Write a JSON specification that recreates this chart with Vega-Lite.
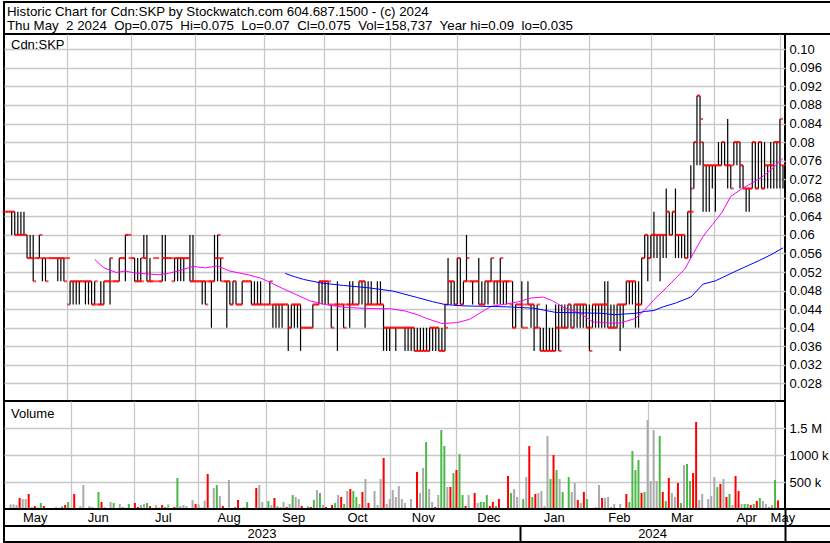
{
"$schema": "https://vega.github.io/schema/vega-lite/v6.json",
"padding": 1,
"spacing": 0,
"bounds": "flush",
"background": "white",
"config": {"view": {"stroke": "black", "strokeWidth": 2, "fill": "white"}, "axis": {"labelFont": "Liberation Sans", "labelFontSize": 13, "labelColor": "black", "title": null}, "text": {"font": "Liberation Sans"}, "concat": {"spacing": 0}},
"datasets": {
"bars": [
{"i":0,"o":0.065,"h":0.065,"l":0.065,"c":0.065,"v":86000,"d":"n"},
{"i":1,"o":0.065,"h":0.065,"l":0.065,"c":0.065,"v":86000,"d":"n"},
{"i":2,"o":0.065,"h":0.065,"l":0.06,"c":0.065,"v":74000,"d":"n"},
{"i":3,"o":0.065,"h":0.065,"l":0.06,"c":0.06,"v":204000,"d":"d"},
{"i":4,"o":0.06,"h":0.065,"l":0.06,"c":0.06,"v":185000,"d":"n"},
{"i":5,"o":0.06,"h":0.065,"l":0.06,"c":0.06,"v":185000,"d":"n"},
{"i":6,"o":0.06,"h":0.065,"l":0.06,"c":0.06,"v":278000,"d":"d"},
{"i":7,"o":0.06,"h":0.06,"l":0.055,"c":0.055,"v":37000,"d":"n"},
{"i":8,"o":0.055,"h":0.06,"l":0.055,"c":0.055,"v":56000,"d":"d"},
{"i":9,"o":0.055,"h":0.06,"l":0.05,"c":0.05,"v":25000,"d":"u"},
{"i":10,"o":0.055,"h":0.055,"l":0.055,"c":0.055,"v":111000,"d":"u"},
{"i":11,"o":0.055,"h":0.06,"l":0.055,"c":0.06,"v":56000,"d":"d"},
{"i":12,"o":0.055,"h":0.055,"l":0.05,"c":0.055,"v":6000,"d":"n"},
{"i":13,"o":0.055,"h":0.055,"l":0.05,"c":0.05,"v":19000,"d":"d"},
{"i":14,"o":0.055,"h":0.055,"l":0.055,"c":0.055,"v":6000,"d":"d"},
{"i":15,"o":0.055,"h":0.055,"l":0.055,"c":0.055,"v":37000,"d":"n"},
{"i":16,"o":0.055,"h":0.055,"l":0.055,"c":0.055,"v":25000,"d":"n"},
{"i":17,"o":0.055,"h":0.055,"l":0.05,"c":0.055,"v":49000,"d":"u"},
{"i":18,"o":0.055,"h":0.055,"l":0.05,"c":0.055,"v":74000,"d":"d"},
{"i":19,"o":0.055,"h":0.055,"l":0.05,"c":0.05,"v":130000,"d":"u"},
{"i":20,"o":0.055,"h":0.055,"l":0.055,"c":0.055,"v":19000,"d":"n"},
{"i":21,"o":0.045,"h":0.05,"l":0.045,"c":0.05,"v":278000,"d":"d"},
{"i":22,"o":0.05,"h":0.05,"l":0.045,"c":0.05,"v":6000,"d":"u"},
{"i":23,"o":0.05,"h":0.05,"l":0.045,"c":0.05,"v":56000,"d":"n"},
{"i":24,"o":0.05,"h":0.05,"l":0.045,"c":0.05,"v":444000,"d":"n"},
{"i":25,"o":0.05,"h":0.05,"l":0.05,"c":0.05,"v":6000,"d":"n"},
{"i":26,"o":0.05,"h":0.05,"l":0.045,"c":0.05,"v":56000,"d":"n"},
{"i":27,"o":0.05,"h":0.05,"l":0.045,"c":0.05,"v":37000,"d":"n"},
{"i":28,"o":0.05,"h":0.05,"l":0.045,"c":0.045,"v":19000,"d":"d"},
{"i":29,"o":0.045,"h":0.05,"l":0.045,"c":0.05,"v":315000,"d":"u"},
{"i":30,"o":0.045,"h":0.045,"l":0.045,"c":0.045,"v":130000,"d":"d"},
{"i":31,"o":0.045,"h":0.05,"l":0.045,"c":0.045,"v":37000,"d":"n"},
{"i":32,"o":0.045,"h":0.05,"l":0.045,"c":0.05,"v":6000,"d":"n"},
{"i":33,"o":0.05,"h":0.05,"l":0.05,"c":0.05,"v":130000,"d":"n"},
{"i":34,"o":0.05,"h":0.055,"l":0.045,"c":0.055,"v":111000,"d":"u"},
{"i":35,"o":0.05,"h":0.05,"l":0.05,"c":0.05,"v":6000,"d":"d"},
{"i":36,"o":0.05,"h":0.05,"l":0.05,"c":0.05,"v":93000,"d":"n"},
{"i":37,"o":0.05,"h":0.055,"l":0.05,"c":0.055,"v":37000,"d":"u"},
{"i":38,"o":0.055,"h":0.055,"l":0.055,"c":0.055,"v":25000,"d":"n"},
{"i":39,"o":0.055,"h":0.06,"l":0.05,"c":0.06,"v":93000,"d":"u"},
{"i":40,"o":0.06,"h":0.06,"l":0.06,"c":0.06,"v":6000,"d":"n"},
{"i":41,"o":0.055,"h":0.055,"l":0.055,"c":0.055,"v":111000,"d":"d"},
{"i":42,"o":0.055,"h":0.055,"l":0.05,"c":0.05,"v":37000,"d":"d"},
{"i":43,"o":0.05,"h":0.055,"l":0.05,"c":0.05,"v":74000,"d":"n"},
{"i":44,"o":0.05,"h":0.055,"l":0.05,"c":0.05,"v":93000,"d":"n"},
{"i":45,"o":0.055,"h":0.06,"l":0.055,"c":0.055,"v":111000,"d":"u"},
{"i":46,"o":0.055,"h":0.06,"l":0.05,"c":0.05,"v":56000,"d":"d"},
{"i":47,"o":0.05,"h":0.055,"l":0.05,"c":0.05,"v":6000,"d":"n"},
{"i":48,"o":0.05,"h":0.05,"l":0.05,"c":0.05,"v":74000,"d":"n"},
{"i":49,"o":0.055,"h":0.055,"l":0.055,"c":0.055,"v":25000,"d":"u"},
{"i":50,"o":0.05,"h":0.05,"l":0.05,"c":0.05,"v":74000,"d":"d"},
{"i":51,"o":0.05,"h":0.06,"l":0.05,"c":0.055,"v":37000,"d":"u"},
{"i":52,"o":0.055,"h":0.06,"l":0.05,"c":0.055,"v":86000,"d":"n"},
{"i":53,"o":0.055,"h":0.055,"l":0.055,"c":0.055,"v":19000,"d":"n"},
{"i":54,"o":0.055,"h":0.055,"l":0.055,"c":0.055,"v":37000,"d":"d"},
{"i":55,"o":0.05,"h":0.055,"l":0.05,"c":0.055,"v":574000,"d":"u"},
{"i":56,"o":0.055,"h":0.055,"l":0.05,"c":0.055,"v":56000,"d":"n"},
{"i":57,"o":0.055,"h":0.055,"l":0.05,"c":0.055,"v":74000,"d":"n"},
{"i":58,"o":0.055,"h":0.055,"l":0.05,"c":0.055,"v":56000,"d":"n"},
{"i":59,"o":0.055,"h":0.055,"l":0.055,"c":0.055,"v":19000,"d":"n"},
{"i":60,"o":0.055,"h":0.06,"l":0.05,"c":0.05,"v":167000,"d":"n"},
{"i":61,"o":0.05,"h":0.06,"l":0.05,"c":0.05,"v":93000,"d":"d"},
{"i":62,"o":0.05,"h":0.05,"l":0.05,"c":0.05,"v":86000,"d":"n"},
{"i":63,"o":0.05,"h":0.05,"l":0.05,"c":0.05,"v":25000,"d":"n"},
{"i":64,"o":0.05,"h":0.05,"l":0.045,"c":0.05,"v":154000,"d":"n"},
{"i":65,"o":0.05,"h":0.05,"l":0.045,"c":0.045,"v":648000,"d":"d"},
{"i":66,"o":0.05,"h":0.05,"l":0.05,"c":0.05,"v":6000,"d":"n"},
{"i":67,"o":0.05,"h":0.05,"l":0.04,"c":0.05,"v":389000,"d":"n"},
{"i":68,"o":0.05,"h":0.06,"l":0.05,"c":0.055,"v":444000,"d":"u"},
{"i":69,"o":0.055,"h":0.06,"l":0.05,"c":0.06,"v":241000,"d":"n"},
{"i":70,"o":0.055,"h":0.055,"l":0.05,"c":0.055,"v":56000,"d":"d"},
{"i":71,"o":0.05,"h":0.05,"l":0.05,"c":0.05,"v":19000,"d":"d"},
{"i":72,"o":0.05,"h":0.05,"l":0.04,"c":0.05,"v":537000,"d":"n"},
{"i":73,"o":0.05,"h":0.05,"l":0.045,"c":0.045,"v":19000,"d":"d"},
{"i":74,"o":0.045,"h":0.05,"l":0.045,"c":0.05,"v":37000,"d":"u"},
{"i":75,"o":0.05,"h":0.05,"l":0.045,"c":0.045,"v":167000,"d":"d"},
{"i":76,"o":0.045,"h":0.045,"l":0.045,"c":0.045,"v":6000,"d":"n"},
{"i":77,"o":0.045,"h":0.05,"l":0.045,"c":0.05,"v":37000,"d":"n"},
{"i":78,"o":0.05,"h":0.05,"l":0.05,"c":0.05,"v":130000,"d":"u"},
{"i":79,"o":0.05,"h":0.05,"l":0.05,"c":0.05,"v":6000,"d":"n"},
{"i":80,"o":0.05,"h":0.05,"l":0.045,"c":0.045,"v":19000,"d":"n"},
{"i":81,"o":0.045,"h":0.05,"l":0.045,"c":0.045,"v":389000,"d":"d"},
{"i":82,"o":0.045,"h":0.05,"l":0.045,"c":0.045,"v":444000,"d":"n"},
{"i":83,"o":0.045,"h":0.05,"l":0.045,"c":0.045,"v":130000,"d":"n"},
{"i":84,"o":0.045,"h":0.045,"l":0.045,"c":0.045,"v":25000,"d":"n"},
{"i":85,"o":0.045,"h":0.045,"l":0.045,"c":0.045,"v":148000,"d":"u"},
{"i":86,"o":0.045,"h":0.05,"l":0.045,"c":0.05,"v":74000,"d":"n"},
{"i":87,"o":0.045,"h":0.045,"l":0.04,"c":0.045,"v":204000,"d":"d"},
{"i":88,"o":0.045,"h":0.045,"l":0.04,"c":0.045,"v":49000,"d":"u"},
{"i":89,"o":0.045,"h":0.045,"l":0.04,"c":0.045,"v":37000,"d":"n"},
{"i":90,"o":0.045,"h":0.045,"l":0.04,"c":0.045,"v":130000,"d":"n"},
{"i":91,"o":0.045,"h":0.045,"l":0.045,"c":0.045,"v":37000,"d":"d"},
{"i":92,"o":0.045,"h":0.045,"l":0.035,"c":0.04,"v":93000,"d":"n"},
{"i":93,"o":0.04,"h":0.045,"l":0.04,"c":0.045,"v":259000,"d":"u"},
{"i":94,"o":0.045,"h":0.045,"l":0.04,"c":0.045,"v":222000,"d":"n"},
{"i":95,"o":0.045,"h":0.045,"l":0.04,"c":0.045,"v":185000,"d":"n"},
{"i":96,"o":0.045,"h":0.045,"l":0.035,"c":0.04,"v":56000,"d":"d"},
{"i":97,"o":0.04,"h":0.04,"l":0.04,"c":0.04,"v":19000,"d":"u"},
{"i":98,"o":0.04,"h":0.04,"l":0.04,"c":0.04,"v":49000,"d":"u"},
{"i":99,"o":0.04,"h":0.04,"l":0.04,"c":0.04,"v":37000,"d":"d"},
{"i":100,"o":0.04,"h":0.045,"l":0.04,"c":0.045,"v":167000,"d":"u"},
{"i":101,"o":0.045,"h":0.045,"l":0.045,"c":0.045,"v":352000,"d":"n"},
{"i":102,"o":0.045,"h":0.05,"l":0.045,"c":0.05,"v":296000,"d":"u"},
{"i":103,"o":0.05,"h":0.05,"l":0.045,"c":0.05,"v":74000,"d":"n"},
{"i":104,"o":0.05,"h":0.05,"l":0.045,"c":0.05,"v":37000,"d":"d"},
{"i":105,"o":0.05,"h":0.05,"l":0.045,"c":0.05,"v":19000,"d":"u"},
{"i":106,"o":0.045,"h":0.045,"l":0.04,"c":0.04,"v":74000,"d":"d"},
{"i":107,"o":0.045,"h":0.045,"l":0.045,"c":0.045,"v":111000,"d":"u"},
{"i":108,"o":0.045,"h":0.05,"l":0.035,"c":0.045,"v":259000,"d":"n"},
{"i":109,"o":0.045,"h":0.045,"l":0.045,"c":0.045,"v":222000,"d":"d"},
{"i":110,"o":0.045,"h":0.045,"l":0.04,"c":0.04,"v":93000,"d":"u"},
{"i":111,"o":0.045,"h":0.045,"l":0.045,"c":0.045,"v":333000,"d":"n"},
{"i":112,"o":0.045,"h":0.05,"l":0.04,"c":0.045,"v":370000,"d":"d"},
{"i":113,"o":0.045,"h":0.05,"l":0.045,"c":0.045,"v":333000,"d":"u"},
{"i":114,"o":0.045,"h":0.045,"l":0.045,"c":0.045,"v":222000,"d":"u"},
{"i":115,"o":0.045,"h":0.05,"l":0.045,"c":0.05,"v":93000,"d":"n"},
{"i":116,"o":0.05,"h":0.05,"l":0.045,"c":0.05,"v":315000,"d":"d"},
{"i":117,"o":0.05,"h":0.05,"l":0.04,"c":0.045,"v":555000,"d":"n"},
{"i":118,"o":0.045,"h":0.05,"l":0.045,"c":0.045,"v":111000,"d":"d"},
{"i":119,"o":0.045,"h":0.05,"l":0.045,"c":0.045,"v":19000,"d":"n"},
{"i":120,"o":0.045,"h":0.045,"l":0.045,"c":0.045,"v":333000,"d":"n"},
{"i":121,"o":0.045,"h":0.05,"l":0.045,"c":0.045,"v":74000,"d":"n"},
{"i":122,"o":0.045,"h":0.05,"l":0.045,"c":0.045,"v":555000,"d":"n"},
{"i":123,"o":0.045,"h":0.045,"l":0.035,"c":0.04,"v":944000,"d":"d"},
{"i":124,"o":0.04,"h":0.04,"l":0.035,"c":0.04,"v":93000,"d":"n"},
{"i":125,"o":0.04,"h":0.04,"l":0.035,"c":0.04,"v":185000,"d":"n"},
{"i":126,"o":0.04,"h":0.04,"l":0.04,"c":0.04,"v":352000,"d":"n"},
{"i":127,"o":0.04,"h":0.04,"l":0.035,"c":0.04,"v":222000,"d":"n"},
{"i":128,"o":0.04,"h":0.04,"l":0.04,"c":0.04,"v":426000,"d":"n"},
{"i":129,"o":0.04,"h":0.04,"l":0.04,"c":0.04,"v":185000,"d":"n"},
{"i":130,"o":0.04,"h":0.04,"l":0.035,"c":0.04,"v":111000,"d":"n"},
{"i":131,"o":0.04,"h":0.04,"l":0.035,"c":0.04,"v":19000,"d":"n"},
{"i":132,"o":0.04,"h":0.04,"l":0.035,"c":0.04,"v":185000,"d":"n"},
{"i":133,"o":0.04,"h":0.04,"l":0.035,"c":0.035,"v":19000,"d":"n"},
{"i":134,"o":0.035,"h":0.04,"l":0.035,"c":0.035,"v":685000,"d":"d"},
{"i":135,"o":0.035,"h":0.04,"l":0.035,"c":0.035,"v":300000,"d":"n"},
{"i":136,"o":0.035,"h":0.04,"l":0.035,"c":0.035,"v":759000,"d":"n"},
{"i":137,"o":0.035,"h":0.04,"l":0.035,"c":0.035,"v":1240000,"d":"u"},
{"i":138,"o":0.035,"h":0.04,"l":0.035,"c":0.04,"v":370000,"d":"n"},
{"i":139,"o":0.04,"h":0.04,"l":0.035,"c":0.04,"v":130000,"d":"n"},
{"i":140,"o":0.04,"h":0.04,"l":0.035,"c":0.04,"v":37000,"d":"d"},
{"i":141,"o":0.04,"h":0.04,"l":0.035,"c":0.035,"v":259000,"d":"n"},
{"i":142,"o":0.035,"h":0.04,"l":0.035,"c":0.035,"v":1462000,"d":"u"},
{"i":143,"o":0.035,"h":0.045,"l":0.035,"c":0.04,"v":1166000,"d":"u"},
{"i":144,"o":0.045,"h":0.055,"l":0.045,"c":0.05,"v":407000,"d":"n"},
{"i":145,"o":0.05,"h":0.05,"l":0.045,"c":0.05,"v":407000,"d":"d"},
{"i":146,"o":0.05,"h":0.05,"l":0.045,"c":0.045,"v":666000,"d":"u"},
{"i":147,"o":0.045,"h":0.055,"l":0.045,"c":0.055,"v":722000,"d":"d"},
{"i":148,"o":0.055,"h":0.055,"l":0.045,"c":0.045,"v":1018000,"d":"u"},
{"i":149,"o":0.045,"h":0.05,"l":0.045,"c":0.05,"v":259000,"d":"u"},
{"i":150,"o":0.05,"h":0.06,"l":0.05,"c":0.055,"v":56000,"d":"d"},
{"i":151,"o":0.05,"h":0.05,"l":0.05,"c":0.05,"v":259000,"d":"n"},
{"i":152,"o":0.05,"h":0.05,"l":0.045,"c":0.05,"v":19000,"d":"n"},
{"i":153,"o":0.05,"h":0.05,"l":0.05,"c":0.05,"v":296000,"d":"d"},
{"i":154,"o":0.05,"h":0.055,"l":0.045,"c":0.045,"v":111000,"d":"n"},
{"i":155,"o":0.045,"h":0.05,"l":0.045,"c":0.045,"v":130000,"d":"u"},
{"i":156,"o":0.045,"h":0.05,"l":0.045,"c":0.05,"v":130000,"d":"u"},
{"i":157,"o":0.05,"h":0.05,"l":0.045,"c":0.05,"v":259000,"d":"u"},
{"i":158,"o":0.05,"h":0.055,"l":0.05,"c":0.055,"v":56000,"d":"d"},
{"i":159,"o":0.05,"h":0.05,"l":0.045,"c":0.05,"v":130000,"d":"d"},
{"i":160,"o":0.05,"h":0.05,"l":0.045,"c":0.05,"v":56000,"d":"u"},
{"i":161,"o":0.05,"h":0.055,"l":0.045,"c":0.055,"v":185000,"d":"d"},
{"i":162,"o":0.05,"h":0.05,"l":0.045,"c":0.05,"v":6000,"d":"n"},
{"i":163,"o":0.05,"h":0.05,"l":0.045,"c":0.05,"v":6000,"d":"n"},
{"i":164,"o":0.05,"h":0.05,"l":0.05,"c":0.05,"v":611000,"d":"d"},
{"i":165,"o":0.045,"h":0.05,"l":0.04,"c":0.04,"v":296000,"d":"u"},
{"i":166,"o":0.04,"h":0.045,"l":0.04,"c":0.045,"v":370000,"d":"n"},
{"i":167,"o":0.045,"h":0.045,"l":0.045,"c":0.045,"v":222000,"d":"n"},
{"i":168,"o":0.045,"h":0.05,"l":0.04,"c":0.045,"v":6000,"d":"d"},
{"i":169,"o":0.04,"h":0.04,"l":0.04,"c":0.04,"v":185000,"d":"u"},
{"i":170,"o":0.045,"h":0.05,"l":0.045,"c":0.045,"v":592000,"d":"n"},
{"i":171,"o":0.045,"h":0.045,"l":0.04,"c":0.045,"v":1166000,"d":"d"},
{"i":172,"o":0.045,"h":0.045,"l":0.035,"c":0.04,"v":222000,"d":"u"},
{"i":173,"o":0.04,"h":0.045,"l":0.04,"c":0.045,"v":278000,"d":"d"},
{"i":174,"o":0.04,"h":0.04,"l":0.035,"c":0.035,"v":296000,"d":"n"},
{"i":175,"o":0.035,"h":0.04,"l":0.035,"c":0.035,"v":333000,"d":"n"},
{"i":176,"o":0.035,"h":0.045,"l":0.035,"c":0.035,"v":56000,"d":"n"},
{"i":177,"o":0.035,"h":0.04,"l":0.035,"c":0.035,"v":1351000,"d":"n"},
{"i":178,"o":0.035,"h":0.04,"l":0.035,"c":0.035,"v":555000,"d":"u"},
{"i":179,"o":0.035,"h":0.045,"l":0.035,"c":0.04,"v":1000000,"d":"d"},
{"i":180,"o":0.04,"h":0.045,"l":0.035,"c":0.035,"v":722000,"d":"u"},
{"i":181,"o":0.04,"h":0.045,"l":0.04,"c":0.04,"v":555000,"d":"n"},
{"i":182,"o":0.04,"h":0.045,"l":0.04,"c":0.04,"v":315000,"d":"u"},
{"i":183,"o":0.04,"h":0.045,"l":0.04,"c":0.045,"v":19000,"d":"d"},
{"i":184,"o":0.045,"h":0.045,"l":0.04,"c":0.04,"v":592000,"d":"u"},
{"i":185,"o":0.04,"h":0.045,"l":0.04,"c":0.045,"v":315000,"d":"n"},
{"i":186,"o":0.045,"h":0.045,"l":0.04,"c":0.045,"v":481000,"d":"n"},
{"i":187,"o":0.045,"h":0.045,"l":0.04,"c":0.045,"v":167000,"d":"d"},
{"i":188,"o":0.045,"h":0.045,"l":0.04,"c":0.045,"v":111000,"d":"n"},
{"i":189,"o":0.045,"h":0.045,"l":0.04,"c":0.04,"v":315000,"d":"d"},
{"i":190,"o":0.04,"h":0.045,"l":0.035,"c":0.035,"v":185000,"d":"u"},
{"i":191,"o":0.04,"h":0.045,"l":0.04,"c":0.045,"v":19000,"d":"u"},
{"i":192,"o":0.045,"h":0.045,"l":0.04,"c":0.045,"v":6000,"d":"n"},
{"i":193,"o":0.045,"h":0.045,"l":0.04,"c":0.045,"v":37000,"d":"n"},
{"i":194,"o":0.045,"h":0.045,"l":0.04,"c":0.045,"v":444000,"d":"n"},
{"i":195,"o":0.045,"h":0.05,"l":0.04,"c":0.045,"v":204000,"d":"d"},
{"i":196,"o":0.045,"h":0.05,"l":0.04,"c":0.04,"v":204000,"d":"n"},
{"i":197,"o":0.04,"h":0.045,"l":0.04,"c":0.04,"v":222000,"d":"n"},
{"i":198,"o":0.04,"h":0.045,"l":0.04,"c":0.04,"v":37000,"d":"u"},
{"i":199,"o":0.04,"h":0.045,"l":0.04,"c":0.045,"v":93000,"d":"n"},
{"i":200,"o":0.045,"h":0.045,"l":0.035,"c":0.045,"v":12000,"d":"n"},
{"i":201,"o":0.045,"h":0.045,"l":0.04,"c":0.045,"v":93000,"d":"n"},
{"i":202,"o":0.045,"h":0.05,"l":0.045,"c":0.05,"v":6000,"d":"n"},
{"i":203,"o":0.05,"h":0.05,"l":0.045,"c":0.05,"v":278000,"d":"d"},
{"i":204,"o":0.05,"h":0.05,"l":0.045,"c":0.05,"v":130000,"d":"u"},
{"i":205,"o":0.05,"h":0.05,"l":0.04,"c":0.045,"v":1074000,"d":"u"},
{"i":206,"o":0.045,"h":0.05,"l":0.04,"c":0.045,"v":722000,"d":"u"},
{"i":207,"o":0.045,"h":0.055,"l":0.045,"c":0.055,"v":907000,"d":"u"},
{"i":208,"o":0.055,"h":0.06,"l":0.055,"c":0.06,"v":296000,"d":"d"},
{"i":209,"o":0.06,"h":0.06,"l":0.05,"c":0.055,"v":315000,"d":"u"},
{"i":210,"o":0.055,"h":0.06,"l":0.055,"c":0.06,"v":1647000,"d":"n"},
{"i":211,"o":0.06,"h":0.065,"l":0.055,"c":0.06,"v":518000,"d":"n"},
{"i":212,"o":0.06,"h":0.06,"l":0.055,"c":0.06,"v":1462000,"d":"n"},
{"i":213,"o":0.06,"h":0.06,"l":0.05,"c":0.06,"v":518000,"d":"n"},
{"i":214,"o":0.06,"h":0.06,"l":0.055,"c":0.06,"v":1351000,"d":"u"},
{"i":215,"o":0.06,"h":0.07,"l":0.055,"c":0.065,"v":315000,"d":"d"},
{"i":216,"o":0.065,"h":0.065,"l":0.06,"c":0.06,"v":148000,"d":"u"},
{"i":217,"o":0.06,"h":0.065,"l":0.06,"c":0.065,"v":574000,"d":"d"},
{"i":218,"o":0.065,"h":0.07,"l":0.055,"c":0.06,"v":296000,"d":"n"},
{"i":219,"o":0.06,"h":0.06,"l":0.055,"c":0.06,"v":222000,"d":"n"},
{"i":220,"o":0.06,"h":0.06,"l":0.055,"c":0.06,"v":481000,"d":"d"},
{"i":221,"o":0.06,"h":0.06,"l":0.055,"c":0.055,"v":111000,"d":"u"},
{"i":222,"o":0.055,"h":0.065,"l":0.055,"c":0.065,"v":814000,"d":"n"},
{"i":223,"o":0.065,"h":0.075,"l":0.055,"c":0.065,"v":833000,"d":"u"},
{"i":224,"o":0.07,"h":0.08,"l":0.07,"c":0.08,"v":518000,"d":"u"},
{"i":225,"o":0.08,"h":0.09,"l":0.075,"c":0.09,"v":666000,"d":"d"},
{"i":226,"o":0.09,"h":0.09,"l":0.075,"c":0.085,"v":1610000,"d":"d"},
{"i":227,"o":0.08,"h":0.08,"l":0.065,"c":0.075,"v":167000,"d":"n"},
{"i":228,"o":0.075,"h":0.075,"l":0.065,"c":0.075,"v":278000,"d":"n"},
{"i":229,"o":0.075,"h":0.075,"l":0.065,"c":0.075,"v":12000,"d":"n"},
{"i":230,"o":0.075,"h":0.075,"l":0.07,"c":0.075,"v":185000,"d":"n"},
{"i":231,"o":0.075,"h":0.075,"l":0.065,"c":0.075,"v":241000,"d":"n"},
{"i":232,"o":0.075,"h":0.08,"l":0.075,"c":0.075,"v":592000,"d":"n"},
{"i":233,"o":0.075,"h":0.08,"l":0.075,"c":0.08,"v":407000,"d":"u"},
{"i":234,"o":0.08,"h":0.08,"l":0.075,"c":0.075,"v":463000,"d":"d"},
{"i":235,"o":0.075,"h":0.085,"l":0.07,"c":0.075,"v":555000,"d":"n"},
{"i":236,"o":0.075,"h":0.075,"l":0.07,"c":0.07,"v":222000,"d":"d"},
{"i":237,"o":0.075,"h":0.08,"l":0.075,"c":0.08,"v":278000,"d":"u"},
{"i":238,"o":0.08,"h":0.08,"l":0.075,"c":0.08,"v":74000,"d":"n"},
{"i":239,"o":0.08,"h":0.08,"l":0.07,"c":0.075,"v":611000,"d":"d"},
{"i":240,"o":0.075,"h":0.075,"l":0.07,"c":0.07,"v":333000,"d":"d"},
{"i":241,"o":0.07,"h":0.07,"l":0.065,"c":0.07,"v":93000,"d":"n"},
{"i":242,"o":0.07,"h":0.07,"l":0.065,"c":0.07,"v":93000,"d":"u"},
{"i":243,"o":0.07,"h":0.08,"l":0.07,"c":0.08,"v":93000,"d":"u"},
{"i":244,"o":0.08,"h":0.08,"l":0.07,"c":0.07,"v":74000,"d":"d"},
{"i":245,"o":0.07,"h":0.08,"l":0.07,"c":0.08,"v":93000,"d":"u"},
{"i":246,"o":0.08,"h":0.08,"l":0.07,"c":0.07,"v":148000,"d":"d"},
{"i":247,"o":0.07,"h":0.08,"l":0.07,"c":0.075,"v":204000,"d":"u"},
{"i":248,"o":0.075,"h":0.075,"l":0.07,"c":0.075,"v":148000,"d":"n"},
{"i":249,"o":0.075,"h":0.08,"l":0.07,"c":0.075,"v":93000,"d":"n"},
{"i":250,"o":0.075,"h":0.08,"l":0.07,"c":0.08,"v":37000,"d":"u"},
{"i":251,"o":0.08,"h":0.08,"l":0.07,"c":0.08,"v":74000,"d":"n"},
{"i":252,"o":0.08,"h":0.085,"l":0.07,"c":0.085,"v":537000,"d":"u"},
{"i":253,"o":0.075,"h":0.075,"l":0.07,"c":0.075,"v":158737,"d":"d"}
],
"ma1": [
{"i":29,"v":0.0547},{"i":32,"v":0.0529},{"i":36,"v":0.0519},{"i":39,"v":0.0522},{"i":42,"v":0.0518},{"i":46,"v":0.0516},{"i":50,"v":0.0514},{"i":53,"v":0.0517},{"i":56,"v":0.0522},{"i":61,"v":0.0532},{"i":65,"v":0.0529},{"i":69,"v":0.0533},{"i":73,"v":0.0522},{"i":79,"v":0.0514},{"i":83,"v":0.0507},{"i":86,"v":0.0498},{"i":90,"v":0.0485},{"i":94,"v":0.0473},{"i":99,"v":0.0458},{"i":104,"v":0.045},{"i":110,"v":0.0444},{"i":116,"v":0.0442},{"i":121,"v":0.0441},{"i":125,"v":0.0441},{"i":130,"v":0.0436},{"i":134,"v":0.0428},{"i":137,"v":0.042},{"i":142,"v":0.0409},{"i":147,"v":0.0411},{"i":151,"v":0.0418},{"i":154,"v":0.043},{"i":158,"v":0.0446},{"i":162,"v":0.045},{"i":167,"v":0.0456},{"i":171,"v":0.0464},{"i":175,"v":0.0466},{"i":178,"v":0.0458},{"i":182,"v":0.0442},{"i":187,"v":0.0431},{"i":191,"v":0.0413},{"i":196,"v":0.041},{"i":200,"v":0.041},{"i":205,"v":0.042},{"i":208,"v":0.0438},{"i":211,"v":0.046},{"i":215,"v":0.0486},{"i":221,"v":0.0526},{"i":224,"v":0.0562},{"i":227,"v":0.0597},{"i":230,"v":0.0622},{"i":233,"v":0.0647},{"i":236,"v":0.0683},{"i":240,"v":0.0701},{"i":243,"v":0.0712},{"i":246,"v":0.0724},{"i":249,"v":0.074},{"i":253,"v":0.0765}
],
"ma2": [
{"i":91,"v":0.0517},{"i":94,"v":0.051},{"i":97,"v":0.0504},{"i":103,"v":0.0496},{"i":110,"v":0.0491},{"i":118,"v":0.0486},{"i":126,"v":0.0479},{"i":134,"v":0.0465},{"i":139,"v":0.0456},{"i":143,"v":0.045},{"i":149,"v":0.0447},{"i":163,"v":0.0445},{"i":172,"v":0.0442},{"i":179,"v":0.0433},{"i":194,"v":0.0431},{"i":198,"v":0.0428},{"i":205,"v":0.0431},{"i":208,"v":0.0435},{"i":211,"v":0.0437},{"i":214,"v":0.0445},{"i":218,"v":0.0453},{"i":223,"v":0.0466},{"i":227,"v":0.0494},{"i":231,"v":0.0501},{"i":238,"v":0.0523},{"i":245,"v":0.0544},{"i":249,"v":0.0557},{"i":253,"v":0.0572}
]
},
"vconcat": [
{
"width": 827, "height": 32,
"data": {"values": [{"line": 1, "t": "Historic Chart for Cdn:SKP by Stockwatch.com 604.687.1500 - (c) 2024"}, {"line": 2, "t": "Thu May\u00a0 2 2024\u00a0 Op=0.075\u00a0 Hi=0.075\u00a0 Lo=0.07\u00a0 Cl=0.075\u00a0 Vol=158,737\u00a0 Year hi=0.09\u00a0 lo=0.035"}]},
"mark": {"type": "text", "align": "left", "baseline": "middle", "x": 3, "dy": 1, "font": "Liberation Sans", "color": "black", "fontSize": 13.3},
"encoding": {"y": {"field": "line", "type": "ordinal", "axis": null, "scale": {"padding": 0.6}}, "text": {"field": "t"}}
},
{
"width": 781, "height": 367,
"resolve": {"axis": {"y": "independent"}},
"layer": [
{"data": {"name": "bars"}, "mark": {"type": "rule", "color": "black", "strokeWidth": 1.2},
"encoding": {
"x": {"field": "i", "type": "quantitative", "scale": {"domain": [-0.5, 253.65], "nice": false, "zero": false}, "axis": {"values": [20.1, 40.7, 61.8, 84.2, 103.5, 125.2, 146.9, 167.5, 189.8, 210.2, 230.5, 251.9], "tickCount": 40, "grid": true, "gridColor": "#c8c8c8", "gridWidth": 1.3, "labels": false, "ticks": false, "domain": false, "title": null}},
"y": {"field": "l", "type": "quantitative", "scale": {"domain": [0.0242, 0.1033], "nice": false, "zero": false}, "axis": {"orient": "right", "values": [0.028, 0.032, 0.036, 0.04, 0.044, 0.048, 0.052, 0.056, 0.06, 0.064, 0.068, 0.072, 0.076, 0.08, 0.084, 0.088, 0.092, 0.096, 0.1], "tickCount": 40, "labelExpr": "datum.value >= 0.0999 ? '0.10' : format(datum.value, '.3~f')", "grid": true, "gridColor": "#c8c8c8", "gridWidth": 1.3, "domain": false, "ticks": false, "tickSize": 0, "labelPadding": 4, "labelFlush": false, "labelOverlap": false, "title": null}},
"y2": {"field": "h"}}},
{"data": {"name": "bars"}, "mark": {"type": "tick", "orient": "horizontal", "color": "#ff0000", "size": 3, "thickness": 2, "xOffset": -1.5},
"encoding": {"x": {"field": "i", "type": "quantitative"}, "y": {"field": "o", "type": "quantitative", "axis": null}}},
{"data": {"name": "bars"}, "mark": {"type": "tick", "orient": "horizontal", "color": "#ff0000", "size": 3, "thickness": 2, "xOffset": 1.5},
"encoding": {"x": {"field": "i", "type": "quantitative"}, "y": {"field": "c", "type": "quantitative", "axis": null}}},
{"data": {"name": "ma1"}, "mark": {"type": "line", "color": "#ff00ff", "strokeWidth": 1},
"encoding": {"x": {"field": "i", "type": "quantitative"}, "y": {"field": "v", "type": "quantitative", "axis": null}}},
{"data": {"name": "ma2"}, "mark": {"type": "line", "color": "#0000ff", "strokeWidth": 1},
"encoding": {"x": {"field": "i", "type": "quantitative"}, "y": {"field": "v", "type": "quantitative", "axis": {"orient": "right", "offset": 46, "domain": true, "domainColor": "black", "domainWidth": 2, "labels": false, "ticks": false, "grid": false, "title": null}}}},
{"data": {"values": [{"t": "Cdn:SKP"}]}, "mark": {"type": "text", "x": 7, "y": 11, "align": "left", "baseline": "middle", "fontSize": 13, "font": "Liberation Sans", "color": "black"},
"encoding": {"text": {"field": "t"}}}
]
},
{
"width": 781, "height": 108,
"resolve": {"axis": {"y": "independent"}},
"layer": [
{"data": {"name": "bars"}, "mark": {"type": "bar", "width": 2},
"encoding": {
"x": {"field": "i", "type": "quantitative", "scale": {"domain": [-0.5, 253.65], "nice": false, "zero": false}, "axis": {"values": [20.1, 40.7, 61.8, 84.2, 103.5, 125.2, 146.9, 167.5, 189.8, 210.2, 230.5, 251.9], "tickCount": 40, "grid": true, "gridColor": "#c8c8c8", "gridWidth": 1.3, "labels": false, "ticks": false, "domain": false, "title": null}},
"y": {"field": "v", "type": "quantitative", "scale": {"domain": [0, 2000000], "nice": false}, "axis": {"orient": "right", "values": [500000, 1000000, 1500000], "tickCount": 10, "labelExpr": "datum.value == 1500000 ? '1.5 M' : (datum.value == 1000000 ? '1000 k' : '500 k')", "grid": true, "gridColor": "#c8c8c8", "gridWidth": 1.3, "domain": false, "ticks": false, "tickSize": 0, "labelPadding": 4, "labelFlush": false, "labelOverlap": false, "title": null}},
"color": {"field": "d", "type": "nominal", "scale": {"domain": ["u", "d", "n"], "range": ["#4cb848", "#ff0000", "#aaaaaa"]}, "legend": null}}},
{"data": {"name": "bars"}, "mark": {"type": "tick", "opacity": 0},
"encoding": {"x": {"field": "i", "type": "quantitative"}, "y": {"field": "v", "type": "quantitative", "axis": {"orient": "right", "offset": 46, "domain": true, "domainColor": "black", "domainWidth": 2, "labels": false, "ticks": false, "grid": false, "title": null}}}},
{"data": {"values": [{"t": "Volume"}]}, "mark": {"type": "text", "x": 7, "y": 13, "align": "left", "baseline": "middle", "fontSize": 13, "font": "Liberation Sans", "color": "black"},
"encoding": {"text": {"field": "t"}}}
]
},
{
"width": 827, "height": 17,
"data": {"name": "bars"},
"mark": {"type": "tick", "opacity": 0},
"encoding": {"x": {"field": "i", "type": "quantitative", "scale": {"domain": [-0.5, 253.65], "range": [0, 781], "nice": false, "zero": false}, "axis": {"orient": "bottom", "offset": -17, "values": [9.5, 30, 51.2, 72.6, 93.6, 114.4, 135.8, 157.1, 178.4, 199.6, 220, 241, 252.8, 253.65], "tickCount": 40, "labelExpr": "datum.value > 253 ? '' : ['May','Jun','Jul','Aug','Sep','Oct','Nov','Dec','Jan','Feb','Mar','Apr','May'][indexof([9.5,30,51.2,72.6,93.6,114.4,135.8,157.1,178.4,199.6,220,241,252.8], datum.value)]", "ticks": false, "domain": false, "grid": true, "gridColor": "black", "gridWidth": 2, "gridOpacity": {"condition": {"test": "datum.value > 253", "value": 1}, "value": 0}, "labelPadding": 2, "labelFlush": false, "labelOverlap": false, "title": null}}}
},
{
"width": 827, "height": 16,
"data": {"name": "bars"},
"mark": {"type": "tick", "opacity": 0},
"encoding": {"x": {"field": "i", "type": "quantitative", "scale": {"domain": [-0.5, 253.65], "range": [0, 781], "nice": false, "zero": false}, "axis": {"orient": "bottom", "offset": -16, "values": [83.3, 167.5, 210.4, 253.65], "tickCount": 40, "labelExpr": "datum.value < 100 ? '2023' : (datum.value > 200 && datum.value < 253 ? '2024' : '')", "ticks": false, "domain": false, "grid": true, "gridColor": "black", "gridWidth": 2, "gridOpacity": {"condition": {"test": "datum.value == 167.5 || datum.value > 253", "value": 1}, "value": 0}, "labelPadding": 1, "labelFlush": false, "labelOverlap": false, "title": null}}}
}
]
}
